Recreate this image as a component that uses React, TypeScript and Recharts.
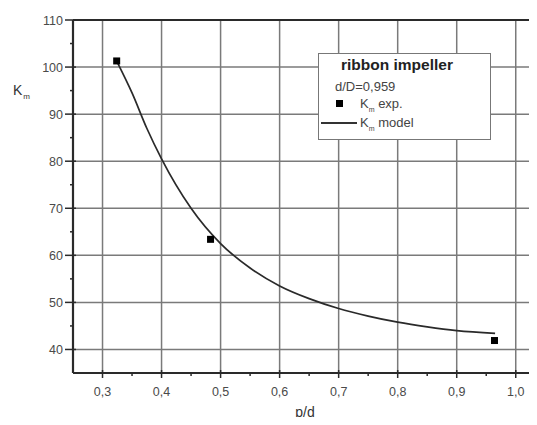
import React from 'react';
import { ComposedChart, Line, Scatter, XAxis, YAxis, ReferenceLine } from 'recharts';

// measured points
const expX = [0.324, 0.483, 0.964];
const expY = [101.3, 63.4, 41.9];

// fitted model curve
const modelX = [0.325, 0.35, 0.375, 0.4, 0.45, 0.5, 0.55, 0.6, 0.65, 0.7, 0.75, 0.8, 0.85, 0.9, 0.965];
const modelY = [101, 94.5, 87, 80.5, 70, 62.5, 57.3, 53.5, 50.8, 48.7, 47.1, 45.8, 44.8, 44.0, 43.4];

const xTicks = [0.3, 0.35, 0.4, 0.45, 0.5, 0.55, 0.6, 0.65, 0.7, 0.75, 0.8, 0.85, 0.9, 0.95, 1.0];
const xGrid = [0.3, 0.4, 0.5, 0.6, 0.7, 0.8, 0.9, 1.0];
const yTicks = [40, 45, 50, 55, 60, 65, 70, 75, 80, 85, 90, 95, 100, 105, 110];
const yGrid = [40, 50, 60, 70, 80, 90, 100];

const expData = expX.map((x, i) => ({ x, y: expY[i] }));
const modelData = modelX.map((x, i) => ({ x, y: modelY[i] }));

const font = '"Liberation Sans", Arial, sans-serif';
const axisColor = '#2a2a2a';
const gridColor = '#7a7a7a';
const labelColor = '#4a4a4a';

const fmtX = (v: number) => v.toFixed(1).replace('.', ',');

function XTick({ x, y, payload }: any) {
    const major = Math.round(payload.value * 100) % 10 === 0;
    if (!major) {
        return <line x1={x} x2={x} y1={y} y2={y + 3} stroke={axisColor} strokeWidth={1.5} />;
    }
    return (
        <g>
            <line x1={x} x2={x} y1={y - 3} y2={y + 5} stroke={axisColor} strokeWidth={1.5} />
            <text x={x} y={y + 23} textAnchor="middle" fontSize={12.5} fill={labelColor} fontFamily={font}>
                {fmtX(payload.value)}
            </text>
        </g>
    );
}

function YTick({ x, y, payload }: any) {
    const major = payload.value % 10 === 0;
    if (!major) {
        return <line x1={x - 3} x2={x} y1={y} y2={y} stroke={axisColor} strokeWidth={1.5} />;
    }
    return (
        <g>
            <line x1={x - 8} x2={x + 3} y1={y} y2={y} stroke={axisColor} strokeWidth={1.5} />
            <text x={x - 10} y={y + 4.5} textAnchor="end" fontSize={12.5} fill={labelColor} fontFamily={font}>
                {payload.value}
            </text>
        </g>
    );
}

const Square = (props: any) => {
    const { cx, cy } = props;
    return <rect x={cx - 3.5} y={cy - 3.5} width={7} height={7} fill="#000" />;
};

export default function App() {
    return (
        <div style={{ position: 'relative', margin: -8, width: 537, height: 425, overflow: 'hidden', background: '#fff' }}>
            <ComposedChart width={537} height={425} margin={{ top: 20, right: 0, left: 0, bottom: 0 }}>
                <XAxis
                    type="number"
                    dataKey="x"
                    domain={[0.25, 1.036]}
                    allowDataOverflow
                    ticks={xTicks}
                    interval={0}
                    height={52}
                    tickSize={0}
                    tickMargin={0}
                    tickLine={false}
                    tick={<XTick />}
                    axisLine={{ stroke: axisColor, strokeWidth: 2.2 }}
                    label={{
                        value: 'p/d',
                        position: 'insideBottom',
                        offset: 8,
                        fontSize: 14,
                        fill: '#333',
                        fontFamily: font,
                    }}
                />
                <YAxis
                    type="number"
                    dataKey="y"
                    domain={[35, 110]}
                    allowDataOverflow
                    ticks={yTicks}
                    interval={0}
                    width={73}
                    tickSize={0}
                    tickMargin={0}
                    tickLine={false}
                    tick={<YTick />}
                    axisLine={{ stroke: axisColor, strokeWidth: 2.2 }}
                    label={{
                        content: () => (
                            <text x={13} y={95} fontSize={14} fill="#333" fontFamily={font}>
                                K
                                <tspan fontSize={8} dx={1} dy={4}>m</tspan>
                            </text>
                        ),
                    }}
                />
                {xGrid.map((v) => (
                    <ReferenceLine key={'gx' + v} x={v} stroke={gridColor} strokeWidth={1.5} />
                ))}
                {yGrid.map((v) => (
                    <ReferenceLine key={'gy' + v} y={v} stroke={gridColor} strokeWidth={1.5} />
                ))}
                <ReferenceLine y={110} stroke={axisColor} strokeWidth={2.2} />
                <Line
                    data={modelData}
                    dataKey="y"
                    type="monotone"
                    stroke="#2a2a2a"
                    strokeWidth={1.7}
                    dot={false}
                    isAnimationActive={false}
                />
                <Scatter data={expData} dataKey="y" shape={<Square />} isAnimationActive={false} />
            </ComposedChart>

            <div
                style={{
                    position: 'absolute',
                    left: 318,
                    top: 53,
                    width: 171,
                    height: 85,
                    border: '1.5px solid #777',
                    background: '#fff',
                    fontFamily: font,
                    color: '#333',
                }}
            >
                <div style={{ position: 'absolute', left: 22, top: 2, fontSize: 15.5, fontWeight: 'bold', color: '#222' }}>
                    ribbon impeller
                </div>
                <div style={{ position: 'absolute', left: 16, top: 25, fontSize: 13, color: '#444' }}>d/D=0,959</div>
                <div style={{ position: 'absolute', left: 17, top: 46, width: 7, height: 7, background: '#000' }} />
                <div style={{ position: 'absolute', left: 41, top: 42, fontSize: 13, color: '#444' }}>
                    K<sub style={{ fontSize: 7 }}>m</sub> exp.
                </div>
                <div style={{ position: 'absolute', left: 2, top: 68, width: 36, height: 1.5, background: '#333' }} />
                <div style={{ position: 'absolute', left: 41, top: 61, fontSize: 13, color: '#444' }}>
                    K<sub style={{ fontSize: 7 }}>m</sub> model
                </div>
            </div>
        </div>
    );
}
